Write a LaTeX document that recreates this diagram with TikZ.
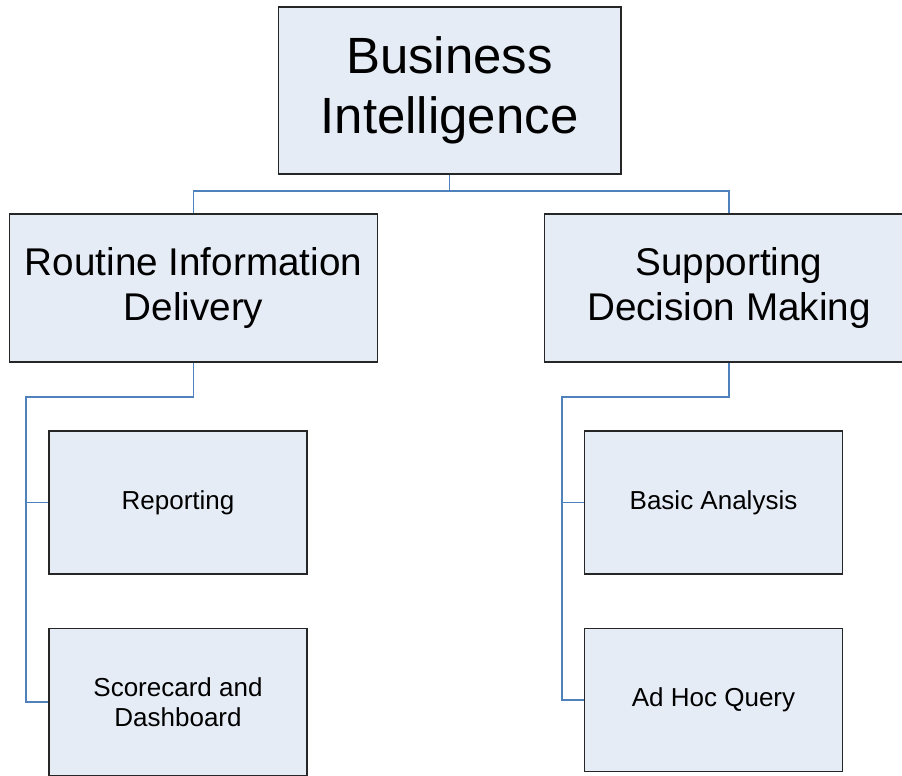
\documentclass[tikz,border=0pt]{standalone}
\usepackage{fontspec}
\setmainfont{Liberation Sans}
\definecolor{boxfill}{HTML}{E6ECF6}
\definecolor{linkblue}{HTML}{4F81BD}
\begin{document}
\begin{tikzpicture}[x=0.02cm, y=-0.02cm,
		block/.style={rectangle, draw=black!85, fill=boxfill, line width=0.6pt, align=center, inner sep=0mm},
		topblock/.style={block, minimum width=6.86cm, minimum height=3.34cm, font=\fontsize{29}{34.5}\selectfont},
		midblock/.style={block, minimum width=7.38cm, minimum height=2.96cm, font=\fontsize{22}{26}\selectfont},
		leafblock/.style={block, minimum width=5.16cm, minimum height=2.86cm, font=\fontsize{14.8}{17}\selectfont},
		link/.style={draw=linkblue, line width=0.6pt}]
		\useasboundingbox[fill=white] (0, 0) rectangle (902, 775);
		% top level
		\node[topblock] (bi) at (449.5, 90.5) {Business \\ Intelligence};
		% second level
		\node[midblock] (rid) at (193.5, 288) {Routine Information \\ Delivery};
		\node[midblock] (sdm) at (729, 288) {Supporting \\ Decision Making};
		% leaves
		\node[leafblock] (rep) at (178, 502.5) {Reporting};
		\node[leafblock, minimum height=2.96cm] (scd) at (178, 702) {Scorecard and \\ Dashboard};
		\node[leafblock] (ba) at (713.5, 502.5) {Basic Analysis};
		\node[leafblock] (ahq) at (713.5, 700) {Ad Hoc Query};
		% connectors
		\coordinate (bus) at (449.5, 191);
		\coordinate (lbend) at (26, 397);
		\coordinate (rbend) at (562, 397);
		\draw[link] (bi.south) -- (bus) -| (rid.north);
		\draw[link] (bus) -| (sdm.north);
		\draw[link] (rid.south) |- (lbend) |- (rep.west);
		\draw[link] (lbend) |- (scd.west);
		\draw[link] (sdm.south) |- (rbend) |- (ba.west);
		\draw[link] (rbend) |- (ahq.west);
	\end{tikzpicture}
\end{document}
